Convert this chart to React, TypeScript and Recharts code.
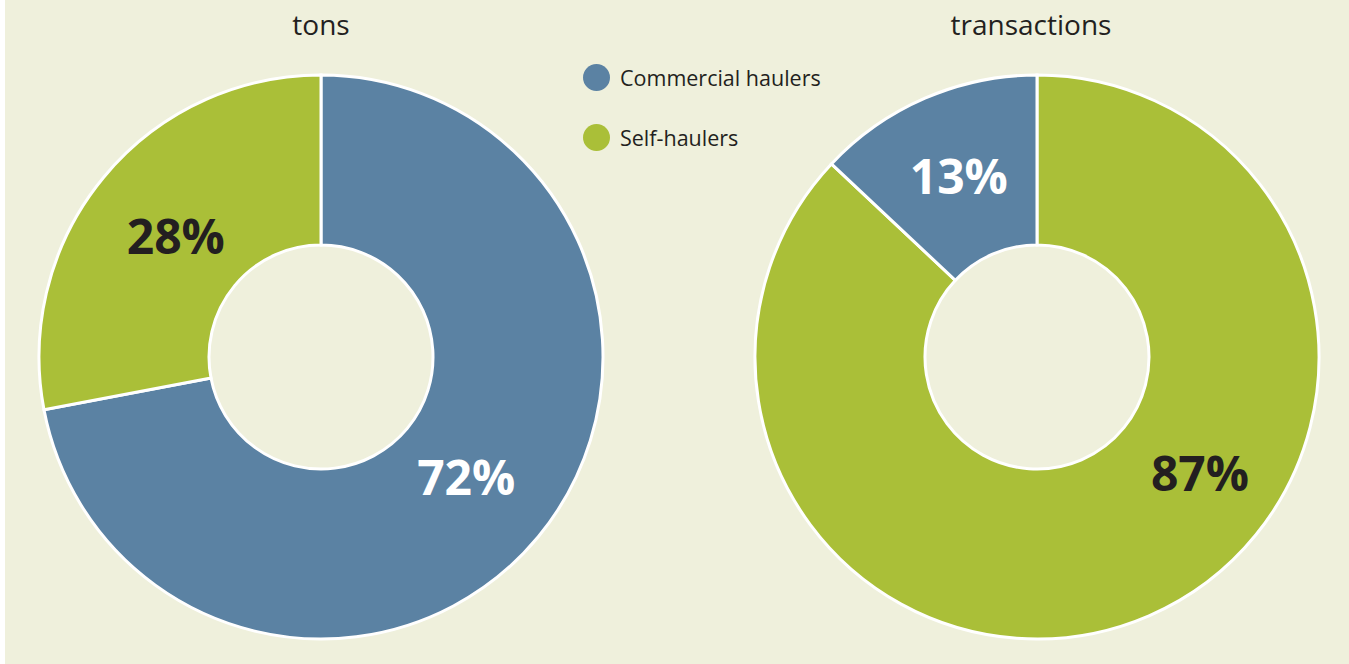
import React from "react";
import { PieChart, Pie, Cell } from "recharts";

const categories = ["Commercial haulers", "Self-haulers"];
const tonsValues = [72, 28];
const transactionsValues = [13, 87];
const chartTitles = ["tons", "transactions"];

const BLUE = "#5B82A3";
const GREEN = "#AABF38";
const BG = "#EFF0DC";
const DARK = "#231F20";
const FONT = "'Open Sans', 'Noto Sans', sans-serif";

const tonsData = categories.map((name, i) => ({ name, value: tonsValues[i], color: i === 0 ? BLUE : GREEN, text: i === 0 ? "#fff" : DARK }));
// transactions drawn clockwise starting with self-haulers
const transData = [1, 0].map((i) => ({ name: categories[i], value: transactionsValues[i], color: i === 0 ? BLUE : GREEN, text: i === 0 ? "#fff" : DARK }));

const RAD = Math.PI / 180;

const renderLabel = (props: any) => {
  const { cx, cy, midAngle, innerRadius, outerRadius, payload, percent } = props;
  let angle = midAngle;
  let f = 0.45;
  if (percent > 0.8) { angle = midAngle + 31; f = 0.52; }
  else if (percent < 0.2) { f = 0.5; }
  const r = innerRadius + (outerRadius - innerRadius) * f;
  const x = cx + r * Math.cos(-angle * RAD);
  const y = cy + r * Math.sin(-angle * RAD) - 1;
  return (
    <text x={x} y={y} fill={payload.text} textAnchor="middle" dominantBaseline="central" fontFamily={FONT} fontWeight={700} fontSize={48}>
      {`${payload.value}%`}
    </text>
  );
};

export default function App() {
  return (
    <div style={{ position: "absolute", left: 0, top: 0, width: 1349, height: 664, background: "#fff", overflow: "hidden" }}>
      <div style={{ position: "absolute", left: 5, top: 0, width: 1344, height: 664, background: BG }} />
      <div style={{ position: "absolute", left: 221, width: 200, top: 5, textAlign: "center", fontFamily: FONT, fontSize: 28, color: DARK }}>{chartTitles[0]}</div>
      <div style={{ position: "absolute", left: 931, width: 200, top: 5, textAlign: "center", fontFamily: FONT, fontSize: 28, color: DARK }}>{chartTitles[1]}</div>
      <div style={{ position: "absolute", left: 583, top: 47, fontFamily: FONT, fontSize: 21.5, color: DARK }}>
        {categories.map((c, i) => (
          <div key={c} style={{ display: "flex", alignItems: "center", height: 60 }}>
            <span style={{ display: "inline-block", width: 27, height: 27, borderRadius: "50%", background: i === 0 ? BLUE : GREEN, marginRight: 10 }} />
            <span>{c}</span>
          </div>
        ))}
      </div>
      <div style={{ position: "absolute", left: 0, top: 0 }}>
        <PieChart width={1349} height={664} margin={{ top: 0, right: 0, bottom: 0, left: 0 }}>
          <Pie data={tonsData} dataKey="value" nameKey="name" cx={321} cy={357} innerRadius={112} outerRadius={282} startAngle={90} endAngle={-270} stroke="#fff" strokeWidth={3} isAnimationActive={false} label={renderLabel} labelLine={false}>
            {tonsData.map((d) => <Cell key={d.name} fill={d.color} />)}
          </Pie>
          <Pie data={transData} dataKey="value" nameKey="name" cx={1037} cy={357} innerRadius={112} outerRadius={282} startAngle={90} endAngle={-270} stroke="#fff" strokeWidth={3} isAnimationActive={false} label={renderLabel} labelLine={false}>
            {transData.map((d) => <Cell key={d.name} fill={d.color} />)}
          </Pie>
        </PieChart>
      </div>
    </div>
  );
}
